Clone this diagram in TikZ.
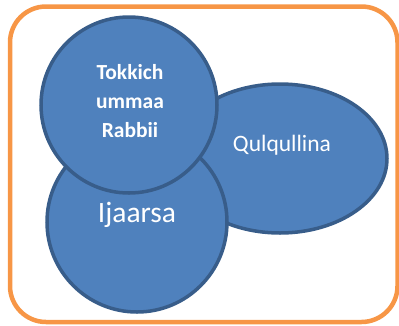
\documentclass[tikz,border=0pt]{standalone}
\usepackage{fontspec}
\setmainfont{Carlito}
\definecolor{bluefill}{HTML}{4F81BD}
\definecolor{blueline}{HTML}{385D8A}
\definecolor{frameorange}{HTML}{F79646}
\begin{document}
\begin{tikzpicture}[x=1pt,y=-1pt,
  blob/.style={fill=bluefill,draw=blueline,line width=3.5pt},
  lbl/.style={text=white,align=center,inner sep=0pt}]
\useasboundingbox (0,0) rectangle (399,325);
\draw[frameorange,line width=4.5pt,rounded corners=36pt] (10,6.5) rectangle (397.5,322);
\path[blob] (280,158.5) ellipse [x radius=107, y radius=74.5];
\coordinate (qc) at (280,158.5);
\path[blob] (137,222) circle [radius=90];
\coordinate (ic) at (137,222);
\path[blob] (129,105) circle [radius=88];
\coordinate (tc) at (129,105);
\node[lbl,font=\fontsize{23.5}{27}\selectfont] (q) at (282,145) {Qulqullina};
\node[lbl,font=\fontsize{29.5}{33}\selectfont] (i) at (137,215) {Ijaarsa};
\node[lbl,font=\fontsize{21.5}{29}\selectfont\bfseries] (t) at (130,101) {Tokkich\\ummaa\\Rabbii};
\end{tikzpicture}
\end{document}
